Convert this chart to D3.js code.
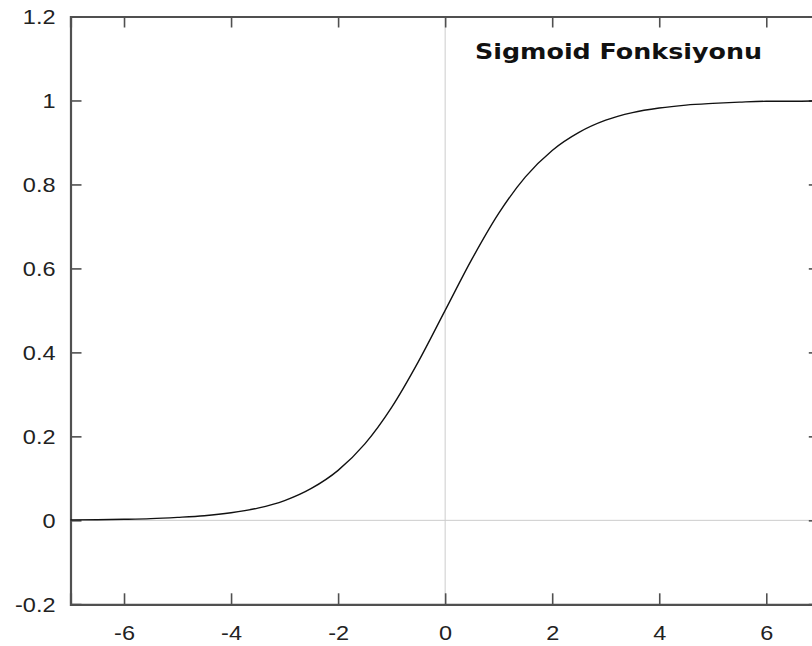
<!DOCTYPE html>
<html lang="tr">
<head>
  <meta charset="UTF-8">
  <title>Sigmoid Fonksiyonu</title>
  <script src="https://d3js.org/d3.v7.min.js"></script>
  <style>
    body { margin: 0; background: #fff; }
    svg { display: block; }
  </style>
</head>
<body>
<script>
  // values
  const xValues = [-7, -6.5, -6, -5.5, -5, -4.5, -4, -3.5, -3, -2.5, -2, -1.5, -1, -0.5,
                   0, 0.5, 1, 1.5, 2, 2.5, 3, 3.5, 4, 4.5, 5, 5.5, 6, 6.5, 7];
  const yValues = [0.001, 0.0015, 0.0025, 0.004, 0.007, 0.011, 0.018, 0.029, 0.047, 0.076,
                   0.119, 0.182, 0.269, 0.378, 0.5, 0.622, 0.731, 0.818, 0.881, 0.924,
                   0.953, 0.971, 0.982, 0.989, 0.993, 0.996, 0.998, 0.998, 0.999];
  const xTicks = [-6, -4, -2, 0, 2, 4, 6];
  const yTicks = [-0.2, 0, 0.2, 0.4, 0.6, 0.8, 1, 1.2];
  const title = "Sigmoid Fonksiyonu";

  const width = 812, height = 646;
  const margin = { top: 16.5, right: -7.8, bottom: 41.7, left: 70.5 };
  const w = width - margin.left - margin.right;
  const h = height - margin.top - margin.bottom;

  const svg = d3.select("body").append("svg")
    .attr("width", width)
    .attr("height", height);

  const g = svg.append("g")
    .attr("transform", "translate(" + margin.left + "," + margin.top + ")");

  const x = d3.scaleLinear().domain([-7, 7]).range([0, w]);
  const y = d3.scaleLinear().domain([-0.2, 1.2]).range([h, 0]);

  // zero lines
  g.append("line")
    .attr("x1", 0).attr("x2", w)
    .attr("y1", y(0)).attr("y2", y(0))
    .attr("stroke", "#cccccc").attr("stroke-width", 1);
  g.append("line")
    .attr("x1", x(0)).attr("x2", x(0))
    .attr("y1", 0).attr("y2", h)
    .attr("stroke", "#cccccc").attr("stroke-width", 1);

  const tickLen = 11;
  const font = "'Liberation Sans', Arial, sans-serif";

  // bottom axis, ticks pointing in
  const axBottom = g.append("g")
    .attr("transform", "translate(0," + h + ")")
    .call(d3.axisBottom(x).tickValues(xTicks).tickSize(-tickLen).tickPadding(21)
      .tickFormat(d => String(d)));
  // top axis
  const axTop = g.append("g")
    .call(d3.axisTop(x).tickValues(xTicks).tickSize(-tickLen).tickFormat(""));
  // left axis
  const axLeft = g.append("g")
    .call(d3.axisLeft(y).tickValues(yTicks).tickSize(-tickLen).tickPadding(15)
      .tickFormat(d => String(+d.toFixed(1))));
  // right axis
  const axRight = g.append("g")
    .attr("transform", "translate(" + w + ",0)")
    .call(d3.axisRight(y).tickValues(yTicks).tickSize(-tickLen).tickFormat(""));

  [axBottom, axTop, axLeft, axRight].forEach(a => {
    a.select(".domain").attr("stroke", "#505050").attr("stroke-width", 2.2);
    a.selectAll(".tick line").attr("stroke", "#505050").attr("stroke-width", 1.6);
    a.selectAll(".tick text")
      .attr("fill", "#222")
      .style("font-family", font)
      .style("font-size", "21px");
  });
  axBottom.selectAll(".tick text").attr("dy", "0.71em");
  // the reference glyphs are a bit wider than Liberation Sans
  axBottom.selectAll(".tick text").attr("transform", "scale(1.12,1)");
  axLeft.selectAll(".tick text").attr("transform", "scale(1.12,1)")
    .attr("x", -15 / 1.12);

  // the curve
  const line = d3.line()
    .x((d, i) => x(xValues[i]))
    .y(d => y(d))
    .curve(d3.curveMonotoneX);

  g.append("path")
    .datum(yValues)
    .attr("fill", "none")
    .attr("stroke", "#111")
    .attr("stroke-width", 1.4)
    .attr("d", line);

  // title
  svg.append("text")
    .attr("x", 475)
    .attr("y", 58.5)
    .attr("textLength", 287)
    .attr("lengthAdjust", "spacingAndGlyphs")
    .style("font-family", "'DejaVu Sans', sans-serif")
    .style("font-weight", "bold")
    .style("font-size", "20.5px")
    .attr("fill", "#111")
    .text(title);
</script>
</body>
</html>
